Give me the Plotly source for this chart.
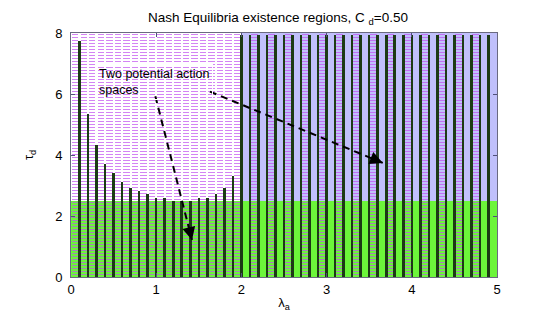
import plotly.graph_objects as go

# region limits
x_min, x_max = 0.0, 5.0
y_min, y_max = 0.0, 8.0
green_top = 2.5
lavender_left = 2.0

# hatched strips (centres)
hatch_left_x = [round(0.05 + 0.1 * i, 2) for i in range(20)]
hatch_right_x = [round(2.15 + 0.2 * i, 2) for i in range(14)]

# stems
stem_x = [round(0.1 * i, 1) for i in range(1, 50)]
stem_h = [7.75, 5.34, 4.33, 3.70, 3.40, 3.10, 2.91, 2.82, 2.72, 2.60,
          2.60, 2.50, 2.50, 2.50, 2.60, 2.60, 2.72, 2.91, 3.32] + [7.93] * 30

FONT = "Arial, Liberation Sans, sans-serif"

fig = go.Figure()

# green region
fig.add_trace(go.Bar(
    x=[(x_min + x_max) / 2], y=[green_top - y_min], base=y_min, width=x_max - x_min,
    marker=dict(color="#6cf53a", line=dict(width=0)),
    hoverinfo="skip", showlegend=False))

# lavender region
fig.add_trace(go.Bar(
    x=[(lavender_left + x_max) / 2], y=[y_max - green_top], base=green_top,
    width=x_max - lavender_left,
    marker=dict(color="#c0c0fb", line=dict(width=0)),
    hoverinfo="skip", showlegend=False))

# hatching
hatch_pattern = dict(shape="-", fgcolor="#c050f0", fgopacity=0.7, bgcolor="rgba(0,0,0,0)",
                     size=3, solidity=0.35, fillmode="overlay")
fig.add_trace(go.Bar(
    x=hatch_left_x, y=[y_max] * len(hatch_left_x), width=0.075,
    marker=dict(color="rgba(0,0,0,0)", line=dict(width=0), pattern=hatch_pattern),
    hoverinfo="skip", showlegend=False))
fig.add_trace(go.Bar(
    x=hatch_right_x, y=[y_max] * len(hatch_right_x), width=0.085,
    marker=dict(color="rgba(0,0,0,0)", line=dict(width=0), pattern=hatch_pattern),
    hoverinfo="skip", showlegend=False))

# stems
fig.add_trace(go.Bar(
    x=stem_x, y=stem_h, width=0.03,
    marker=dict(color="#1c3a14", line=dict(width=0)),
    showlegend=False))

# dashed arrows
arrows = [((0.99, 5.93), (1.42, 1.21)), ((1.63, 6.08), (3.66, 3.74))]
for (x0, y0), (x1, y1) in arrows:
    fig.add_trace(go.Scatter(
        x=[x0, x1], y=[y0, y1], mode="lines",
        line=dict(color="black", width=2, dash="7px,5px"),
        hoverinfo="skip", showlegend=False))
    fig.add_annotation(
        x=x1, y=y1, ax=x1 - (x1 - x0) * 0.04, ay=y1 - (y1 - y0) * 0.04,
        xref="x", yref="y", axref="x", ayref="y", text="",
        showarrow=True, arrowhead=2, arrowsize=1.3, arrowwidth=2, arrowcolor="black")

fig.add_annotation(
    x=0.29, y=7.0, xref="x", yref="y", xanchor="left", yanchor="top",
    text="Two potential action<br>spaces", showarrow=False, align="left",
    font=dict(family=FONT, size=12.5, color="black"),
    bordercolor="white", borderwidth=1, borderpad=2)

# page body adds 8px offset, so the figure is a bit smaller than the window
fig.update_layout(
    width=540, height=312,
    margin=dict(l=63, r=51, t=25, b=43, autoexpand=False),
    paper_bgcolor="white", plot_bgcolor="white",
    barmode="overlay", bargap=0,
    font=dict(family=FONT, size=13, color="black"),
    title=dict(text="Nash Equilibria existence regions, C <sub>d</sub>=0.50",
               x=0.5, xanchor="center", y=0.985, yanchor="top",
               font=dict(family=FONT, size=13.5, color="black")),
)
fig.update_xaxes(range=[x_min, x_max], tickvals=[0, 1, 2, 3, 4, 5],
                 ticks="inside", ticklen=4, tickcolor="#50507a",
                 showline=True, linecolor="#6a6a80", linewidth=1, mirror="ticks",
                 showgrid=False, zeroline=False, automargin=False,
                 tickfont=dict(size=13),
                 title=dict(text="λ<sub>a</sub>", standoff=2, font=dict(size=13)))
fig.update_yaxes(range=[y_min, y_max], tickvals=[0, 2, 4, 6, 8],
                 ticks="inside", ticklen=4, tickcolor="#50507a",
                 showline=True, linecolor="#6a6a80", linewidth=1, mirror="ticks",
                 showgrid=False, zeroline=False, automargin=False,
                 tickfont=dict(size=13), ticklabelstandoff=5,
                 title=dict(text="τ<sub>d</sub>", standoff=18, font=dict(size=13)))

fig.write_html("out.html")
